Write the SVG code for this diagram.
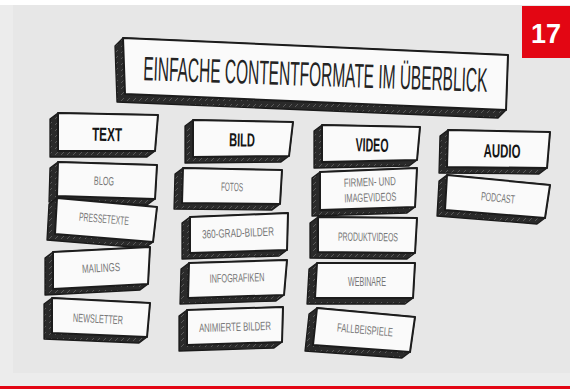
<svg xmlns="http://www.w3.org/2000/svg" width="570" height="389" viewBox="0 0 570 389">
<defs>
<pattern id="hatch" patternUnits="userSpaceOnUse" width="6" height="6">
<rect width="6" height="6" fill="#2a2a2a"/>
<path d="M1,5 L4,2" stroke="#6e6e6e" stroke-width="0.7"/>
</pattern>
<style>
.shade{fill:url(#hatch);stroke:#1a1a1a;stroke-width:1.3;stroke-linejoin:round}
.face{fill:#fafafa;stroke:#1c1c1c;stroke-width:2;stroke-linejoin:round}
.hd{font-family:"Liberation Sans",Arial,sans-serif;font-weight:bold;font-size:19px;fill:#151515;text-anchor:middle}
.it{font-family:"Liberation Sans",Arial,sans-serif;font-size:12px;fill:#767676;text-anchor:middle}
.title{font-family:"Liberation Sans",Arial,sans-serif;font-size:34px;fill:#232323;text-anchor:middle}
</style>
</defs>
<rect width="570" height="389" fill="#ffffff"/>
<rect x="0" y="5" width="570" height="381" fill="#ececec"/>
<rect x="13" y="5" width="557" height="368" fill="#e7e7e7"/>
<rect x="0" y="386" width="570" height="3" fill="#e30613"/>
<g id="badge">
<rect x="522" y="6" width="48" height="52" fill="#e30613"/>
<text x="546" y="43" font-family="Liberation Sans,Arial,sans-serif" font-weight="bold" font-size="27" fill="#ffffff" text-anchor="middle">17</text>
</g>
<g id="title">
<polygon class="shade" points="123,38 508,55 506,110 498,118 117,102 115,46"/>
<polygon class="face" points="123,38 508,55 506,110 125,94"/>
<text class="title" x="0" y="0" transform="translate(315 86) rotate(1.95) scale(0.455 1)">EINFACHE CONTENTFORMATE IM ÜBERBLICK</text>
</g>
<g id="text-header">
<polygon class="shade" points="58,113 158,115 155,151 147,157 50,157 50,119"/>
<polygon class="face" points="58,113 158,115 155,151 58,151"/>
<text class="hd" x="107" y="141" transform="rotate(1 107 134)" textLength="30" lengthAdjust="spacingAndGlyphs">TEXT</text>
</g>
<g id="blog">
<polygon class="shade" points="58,162 157,165 155,199 147,205 49,202 50,168"/>
<polygon class="face" points="58,162 157,165 155,199 57,196"/>
<text class="it" x="104" y="185" transform="rotate(2 104 181)" textLength="20" lengthAdjust="spacingAndGlyphs">BLOG</text>
</g>
<g id="pressetexte">
<polygon class="shade" points="57,198 157,207 153,242 145,248 47,240 49,204"/>
<polygon class="face" points="57,198 157,207 153,242 55,234"/>
<text class="it" x="104" y="223" transform="rotate(5 104 219)" textLength="50" lengthAdjust="spacingAndGlyphs">PRESSETEXTE</text>
</g>
<g id="mailings">
<polygon class="shade" points="53,252 150,247 148,284 140,290 45,295 45,258"/>
<polygon class="face" points="53,252 150,247 148,284 53,289"/>
<text class="it" x="101" y="272" transform="rotate(-3 101 268)" textLength="38" lengthAdjust="spacingAndGlyphs">MAILINGS</text>
</g>
<g id="newsletter">
<polygon class="shade" points="52,298 150,303 147,337 139,343 44,339 44,304"/>
<polygon class="face" points="52,298 150,303 147,337 52,333"/>
<text class="it" x="98" y="323" transform="rotate(3 98 319)" textLength="50" lengthAdjust="spacingAndGlyphs">NEWSLETTER</text>
</g>
<g id="bild-header">
<polygon class="shade" points="193,120 293,122 289,156 281,162 185,163 185,126"/>
<polygon class="face" points="193,120 293,122 289,156 193,157"/>
<text class="hd" x="242" y="146.5" transform="rotate(1 242 140)" textLength="26" lengthAdjust="spacingAndGlyphs">BILD</text>
</g>
<g id="fotos">
<polygon class="shade" points="183,168 282,170 280,204 272,210 174,209 175,174"/>
<polygon class="face" points="183,168 282,170 280,204 182,203"/>
<text class="it" x="232" y="191" transform="rotate(1.2 232 187)" textLength="22" lengthAdjust="spacingAndGlyphs">FOTOS</text>
</g>
<g id="grad-bilder">
<polygon class="shade" points="190,217 288,213 287,250 279,256 182,259 182,223"/>
<polygon class="face" points="190,217 288,213 287,250 190,253"/>
<text class="it" x="238" y="237" transform="rotate(-2.3 238 233)" textLength="72" lengthAdjust="spacingAndGlyphs">360-GRAD-BILDER</text>
</g>
<g id="infografiken">
<polygon class="shade" points="189,263 287,260 284,295 276,301 180,304 181,269"/>
<polygon class="face" points="189,263 287,260 284,295 188,298"/>
<text class="it" x="237" y="282" transform="rotate(-1.7 237 278)" textLength="55" lengthAdjust="spacingAndGlyphs">INFOGRAFIKEN</text>
</g>
<g id="animierte-bilder">
<polygon class="shade" points="187,310 283,307 282,342 274,348 179,351 179,316"/>
<polygon class="face" points="187,310 283,307 282,342 187,345"/>
<text class="it" x="235" y="331" transform="rotate(-1.7 235 327)" textLength="72" lengthAdjust="spacingAndGlyphs">ANIMIERTE BILDER</text>
</g>
<g id="video-header">
<polygon class="shade" points="322,125 420,127 417,160 409,166 314,168 314,131"/>
<polygon class="face" points="322,125 420,127 417,160 322,162"/>
<text class="hd" x="372" y="151.5" transform="rotate(1 372 145)" textLength="33" lengthAdjust="spacingAndGlyphs">VIDEO</text>
</g>
<g id="firmenvideos">
<polygon class="shade" points="320,172 417,168 415,207 407,213 312,216 312,178"/>
<polygon class="face" points="320,172 417,168 415,207 320,210"/>
<text class="it" x="370" y="186" transform="rotate(-2 370 190)" textLength="52" lengthAdjust="spacingAndGlyphs">FIRMEN- UND</text>
<text class="it" x="370" y="201.5" transform="rotate(-2 370 190)" textLength="52" lengthAdjust="spacingAndGlyphs">IMAGEVIDEOS</text>
</g>
<g id="produktvideos">
<polygon class="shade" points="318,217 417,218 415,253 407,259 310,258 310,223"/>
<polygon class="face" points="318,217 417,218 415,253 318,252"/>
<text class="it" x="368" y="241" transform="rotate(0.5 368 237)" textLength="60" lengthAdjust="spacingAndGlyphs">PRODUKTVIDEOS</text>
</g>
<g id="webinare">
<polygon class="shade" points="317,263 415,263 413,298 405,304 307,304 309,269"/>
<polygon class="face" points="317,263 415,263 413,298 315,298"/>
<text class="it" x="367" y="286" textLength="38" lengthAdjust="spacingAndGlyphs">WEBINARE</text>
</g>
<g id="fallbeispiele">
<polygon class="shade" points="317,308 415,317 410,352 402,358 305,351 309,314"/>
<polygon class="face" points="317,308 415,317 410,352 313,345"/>
<text class="it" x="365" y="334" transform="rotate(5 365 330)" textLength="56" lengthAdjust="spacingAndGlyphs">FALLBEISPIELE</text>
</g>
<g id="audio-header">
<polygon class="shade" points="448,130 550,132 547,168 539,174 439,173 440,136"/>
<polygon class="face" points="448,130 550,132 547,168 447,167"/>
<text class="hd" x="502" y="157.5" transform="rotate(1 502 151)" textLength="37" lengthAdjust="spacingAndGlyphs">AUDIO</text>
</g>
<g id="podcast">
<polygon class="shade" points="447,175 550,185 545,218 537,224 437,216 439,181"/>
<polygon class="face" points="447,175 550,185 545,218 445,210"/>
<text class="it" x="498" y="202" transform="rotate(5.5 498 198)" textLength="34" lengthAdjust="spacingAndGlyphs">PODCAST</text>
</g>
</svg>
